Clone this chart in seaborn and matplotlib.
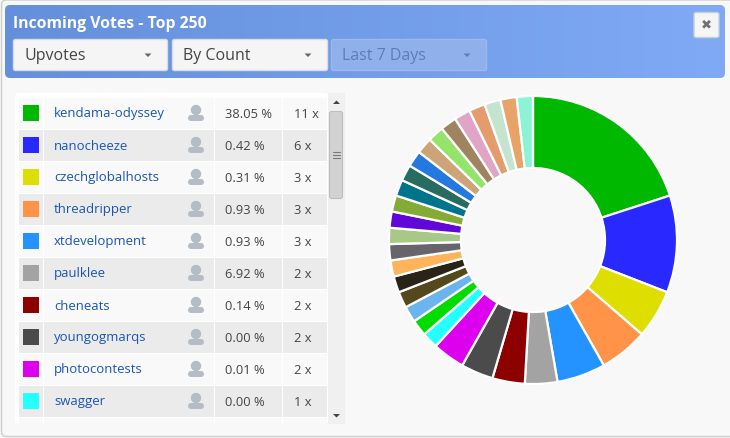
import numpy as np
import matplotlib
matplotlib.use("Agg")
import matplotlib.pyplot as plt
from matplotlib.patches import Rectangle, FancyBboxPatch, Circle, Polygon
import seaborn as sns

sns.set_theme(style="white")
plt.rcParams['font.family'] = ['Open Sans', 'DejaVu Sans']

title = "Incoming Votes - Top 250"
dropdowns = ["Upvotes", "By Count", "Last 7 Days"]
names = ["kendama-odyssey", "nanocheeze", "czechglobalhosts", "threadripper", "xtdevelopment",
         "paulklee", "cheneats", "youngogmarqs", "photocontests", "swagger"]
percents = ["38.05 %", "0.42 %", "0.31 %", "0.93 %", "0.93 %", "6.92 %", "0.14 %", "0.00 %", "0.01 %", "0.00 %"]
count_labels = ["11 x", "6 x", "3 x", "3 x", "3 x", "2 x", "2 x", "2 x", "2 x", "1 x"]
counts = [11, 6, 3, 3, 3, 2, 2, 2, 2, 1, 1, 1, 1, 1, 1, 1, 1, 1, 1, 1, 1, 1, 1, 1, 1, 1, 1, 1, 1, 1]
colors = ["#00b800", "#2828ff", "#dede00", "#ff9448", "#2492ff", "#a3a3a3", "#8c0000", "#4b4b4b",
          "#dc00ee", "#24ffff", "#00dc00", "#6cb4ee", "#54481c", "#2a2418", "#ffb45c", "#68646c",
          "#a8c888", "#6008d8", "#84ac34", "#00748c", "#286c60", "#2478e0", "#cca478", "#94e46c",
          "#a08460", "#e0a4c4", "#e49c6c", "#c4e4d0", "#e8a468", "#8cf4d4"]

bg = "#f8f8f8"
fig = plt.figure(figsize=(7.3, 4.38), dpi=100, facecolor=bg)
ui = fig.add_axes([0, 0, 1, 1])
ui.set_xlim(0, 730)
ui.set_ylim(438, 0)
ui.axis("off")

# outer frame
ui.add_patch(FancyBboxPatch((1.5, 0), 740, 436.5, boxstyle="round,pad=0,rounding_size=5",
                            fc=bg, ec="#cfcfcf", lw=1))

# header gradient
clip = FancyBboxPatch((5, 5), 720, 73, boxstyle="round,pad=0,rounding_size=5", fc="none", ec="none")
ui.add_patch(clip)
grad = np.linspace(0, 1, 256).reshape(1, -1)
cmap = matplotlib.colors.LinearSegmentedColormap.from_list("hdr", ["#648fdb", "#80aaf6"])
im = ui.imshow(grad, extent=(5, 725, 78, 5), cmap=cmap, aspect="auto", zorder=1)
im.set_clip_path(clip)
ui.set_xlim(0, 730)
ui.set_ylim(438, 0)
ui.text(13, 23.5, title, color="white", fontsize=11.3, fontweight="bold", va="center", ha="left", zorder=3)

# dropdowns
boxes = [(13, 155), (172, 156), (331, 156)]
for i, ((x, w), label) in enumerate(zip(boxes, dropdowns)):
    off = i == 2
    ui.add_patch(FancyBboxPatch((x + .5, 39.5), w - 1, 31, boxstyle="round,pad=0,rounding_size=2",
                                fc="#8fb0ea" if off else "#f5f5f5",
                                ec="#9cb8ec" if off else "#d8dde6", lw=1, zorder=3))
    tc = "#5f7db5" if off else "#444444"
    ui.text(x + 11, 56, label, color=tc, fontsize=11.5, va="center", ha="left", zorder=4)
    ax_ = x + w - 20
    ui.add_patch(Polygon([[ax_ - 3.5, 53.5], [ax_ + 3.5, 53.5], [ax_, 57]], fc="#666666" if not off else tc, ec="none", zorder=4))

# close button
ui.add_patch(FancyBboxPatch((694, 12.5), 25, 25, boxstyle="round,pad=0,rounding_size=2",
                            fc="#f5f5f5", ec="#c9ced6", lw=1, zorder=3))
ui.text(706.5, 25, "\u2716", family=["DejaVu Sans"], color="#707070", fontsize=9.5, va="center", ha="center", zorder=4)

# table panel
ui.add_patch(FancyBboxPatch((15, 93), 313, 331, boxstyle="round,pad=0,rounding_size=3", fc="white", ec="none", zorder=1.5))
cols = [(19, 24), (44, 170), (215, 67), (283, 44)]
for r in range(11):
    y0 = 98 + 32 * r
    h = 30.5 if y0 + 30.5 <= 424 else 424 - y0
    fc = "#f9f9f9" if r % 2 == 0 else "#ebebeb"
    for x, w in cols:
        ui.add_patch(Rectangle((x, y0), w, h, fc=fc, ec="none", zorder=2))
for r, (n, p, c) in enumerate(zip(names, percents, count_labels)):
    yc = 113 + 32 * r
    ui.add_patch(Rectangle((23, yc - 8), 16, 16, fc=colors[r], ec="none", zorder=3))
    ui.text(54, yc + 1, n, color="#1a55b5", fontsize=9.45, va="center", ha="left", zorder=3)
    ui.text(225, yc + 1, p, color="#444444", fontsize=9.3, va="center", ha="left", zorder=3)
    ui.text(294, yc + 1, c, color="#444444", fontsize=9.3, va="center", ha="left", zorder=3)
    ui.add_patch(Circle((196, yc - 3), 5.2, fc="#b4bdc6", ec="none", zorder=3))
    ui.add_patch(FancyBboxPatch((188, yc + 2), 16, 6, boxstyle="round,pad=0,rounding_size=3",
                                fc="#b4bdc6", ec="none", zorder=3))

# scrollbar
ui.add_patch(Rectangle((328, 93), 17, 331, fc="#f0f0f0", ec="none", zorder=2))
ui.add_patch(FancyBboxPatch((329.5, 111.5), 13, 87, boxstyle="round,pad=0,rounding_size=2",
                            fc="#d2d2d2", ec="#bdbdbd", lw=.8, zorder=3))
for dy in (151.5, 154.5, 157.5):
    ui.plot([332.5, 339.5], [dy, dy], color="#777777", lw=.8, zorder=4)
ui.add_patch(Polygon([[333, 104], [340, 104], [336.5, 100.5]], fc="#444444", ec="none", zorder=3))
ui.add_patch(Polygon([[333, 414], [340, 414], [336.5, 417.5]], fc="#444444", ec="none", zorder=3))

# donut
cx, cy, R = 533, 240, 144
pie_ax = fig.add_axes([(cx - R - 2) / 730, 1 - (cy + R + 2) / 438, (2 * R + 4) / 730, (2 * R + 4) / 438])
pie_ax.pie(counts, colors=colors, startangle=90, counterclock=False, radius=R / (R + 2) * 1.0,
           wedgeprops=dict(width=0.5 * R / (R + 2), edgecolor="white", linewidth=1.6))
pie_ax.set_xlim(-1, 1)
pie_ax.set_ylim(-1, 1)
pie_ax.patch.set_alpha(0)

fig.savefig("out.png", dpi=100, facecolor=bg)
